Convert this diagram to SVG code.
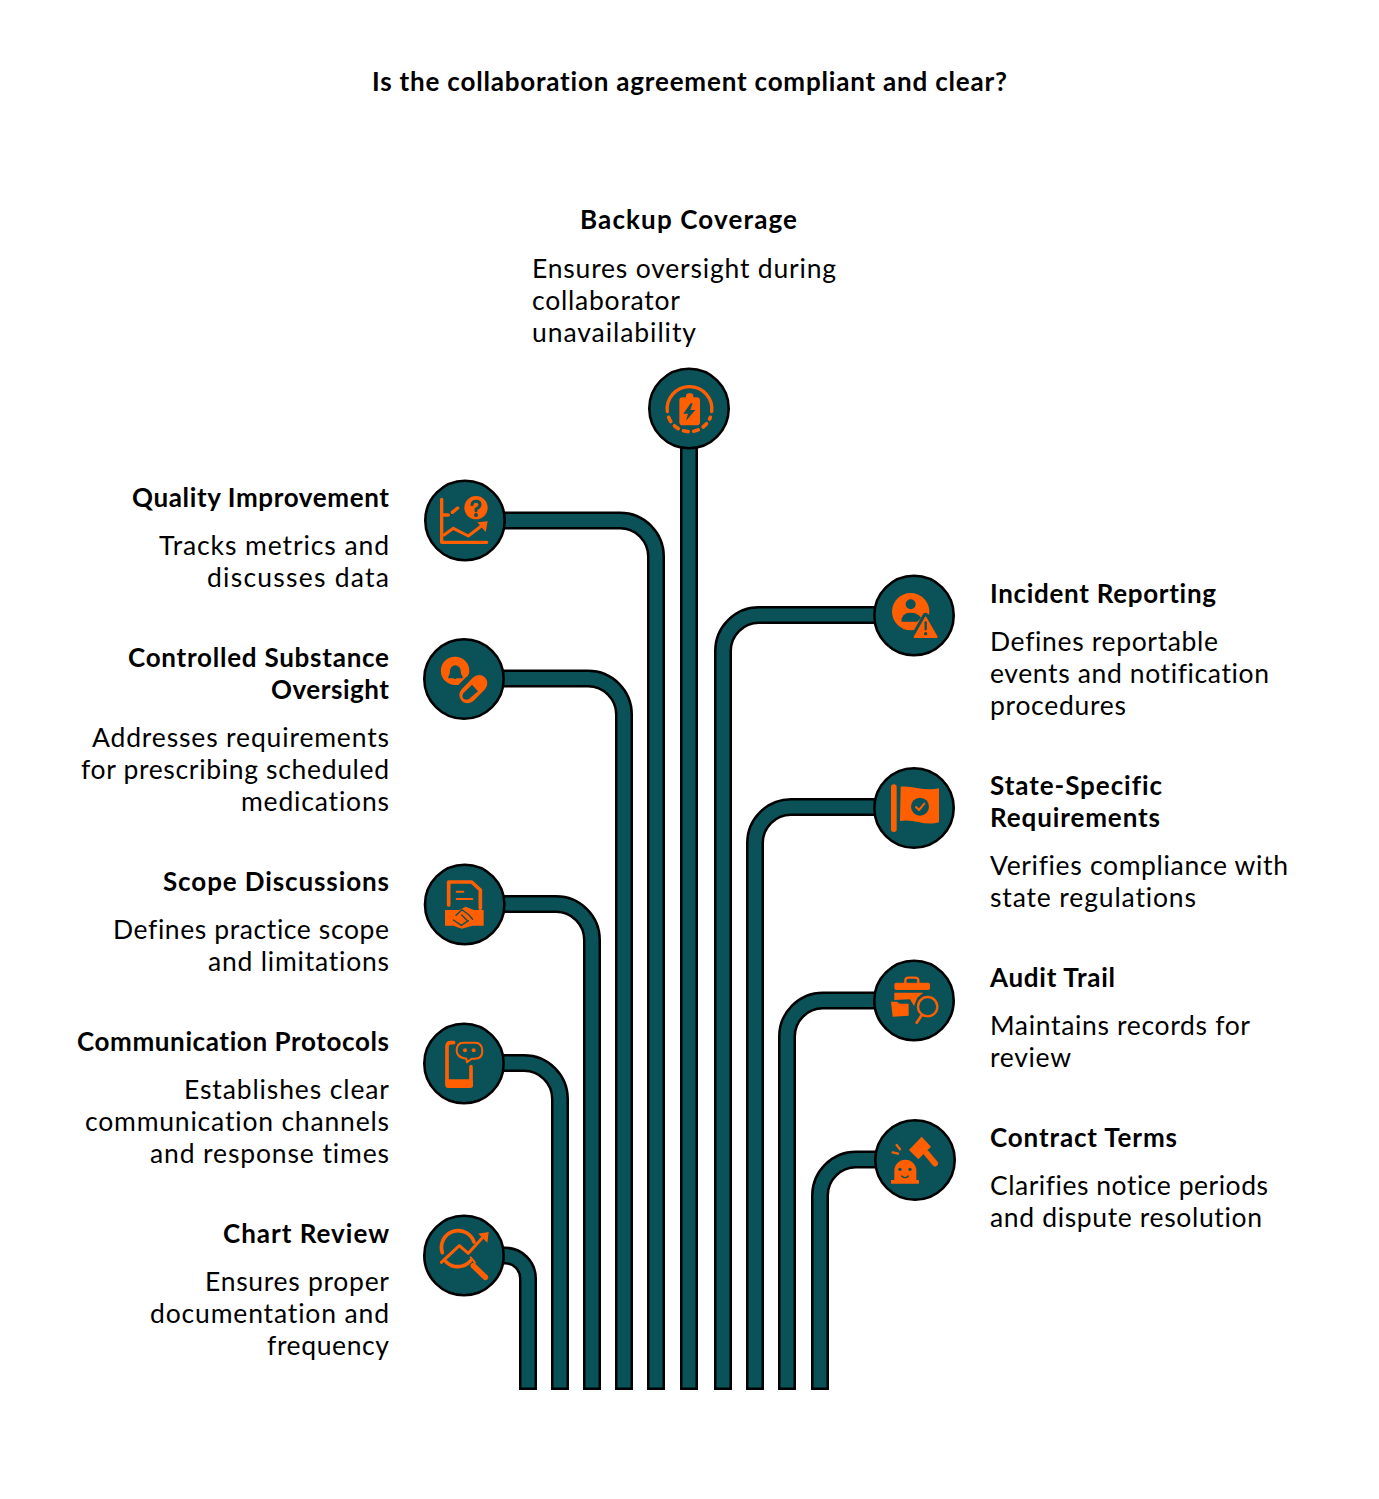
<svg xmlns="http://www.w3.org/2000/svg" width="1379" height="1499" viewBox="0 0 1379 1499">
<style>
text{font-family:"Lato","Noto Sans",sans-serif;fill:#000;font-variant-ligatures:none}
.h{font-size:26px;font-weight:700}
.b{font-size:26.5px;font-weight:400}
.e{text-anchor:end}
.po{fill:none;stroke:#000;stroke-width:18}
.pi{fill:none;stroke:#0b5158;stroke-width:13}
.c{fill:#0b5158;stroke:#000;stroke-width:2.6}
.o{fill:#ff5f00}
.t{fill:#0b5158}
.s{fill:none;stroke:#ff5f00;stroke-linecap:round;stroke-linejoin:round}
.k{fill:none;stroke:#0b5158;stroke-linecap:round;stroke-linejoin:round}
</style>
<rect width="1379" height="1499" fill="#fff"/>
<text class="h" x="372" y="90.5" textLength="635">Is the collaboration agreement compliant and clear?</text>
<g id="connectors">
<path class="po" d="M500 520.5H620A36 36 0 0 1 656 556.5V1390"/><path class="pi" d="M500 520.5H620A36 36 0 0 1 656 556.5V1387.5"/>
<path class="po" d="M500 678.5H588A36 36 0 0 1 624 714.5V1390"/><path class="pi" d="M500 678.5H588A36 36 0 0 1 624 714.5V1387.5"/>
<path class="po" d="M500 904H556A36 36 0 0 1 592 940V1390"/><path class="pi" d="M500 904H556A36 36 0 0 1 592 940V1387.5"/>
<path class="po" d="M500 1063H524A36 36 0 0 1 560 1099V1390"/><path class="pi" d="M500 1063H524A36 36 0 0 1 560 1099V1387.5"/>
<path class="po" d="M500 1255.5H505A23 23 0 0 1 528 1278.5V1390"/><path class="pi" d="M500 1255.5H505A23 23 0 0 1 528 1278.5V1387.5"/>
<path class="po" d="M689 440V1390"/><path class="pi" d="M689 440V1387.5"/>
<path class="po" d="M880 615H759A36 36 0 0 0 723 651V1390"/><path class="pi" d="M880 615H759A36 36 0 0 0 723 651V1387.5"/>
<path class="po" d="M880 807H791A36 36 0 0 0 755 843V1390"/><path class="pi" d="M880 807H791A36 36 0 0 0 755 843V1387.5"/>
<path class="po" d="M880 1000.5H823A36 36 0 0 0 787 1036.5V1390"/><path class="pi" d="M880 1000.5H823A36 36 0 0 0 787 1036.5V1387.5"/>
<path class="po" d="M880 1159.5H856A36 36 0 0 0 820 1195.5V1390"/><path class="pi" d="M880 1159.5H856A36 36 0 0 0 820 1195.5V1387.5"/>
</g>

<g id="backup-coverage">
<circle class="c" cx="689" cy="408.5" r="39.7"/>
<g transform="translate(400 360) scale(.33333)">
<path class="s" stroke-width="10" d="M802 155A67 67 0 1 1 935 155"/>
<path class="s" stroke-width="11" stroke-dasharray="14 17" d="M806 172A67 67 0 0 0 931 172"/>
<rect class="o" x="838" y="112" width="62" height="84" rx="10"/><rect class="o" x="858" y="100" width="22" height="20" rx="8"/>
<path class="t" d="M872 130L850 161H864L858 182L886 150H871L878 130Z"/>
</g>
<text class="h" x="580" y="229" textLength="217">Backup Coverage</text>
<text class="b" x="532" y="278" textLength="304">Ensures oversight during</text>
<text class="b" x="532" y="310" textLength="148">collaborator</text>
<text class="b" x="532" y="342" textLength="164">unavailability</text>
</g>

<g id="quality-improvement">
<circle class="c" cx="465" cy="520.5" r="39.7"/>
<g transform="translate(400 360) scale(.33333)">
<path class="s" stroke-width="10" fill="none" d="M125 418V547H260M125 465H145M157 457L173 444"/>
<circle class="o" cx="228" cy="443" r="35"/>
<path class="k" stroke-width="9" d="M216 434Q217 424 228 424Q240 424 240 434Q240 441 228 447V452"/><circle class="t" cx="228" cy="465" r="6"/>
<path class="s" stroke-width="9" d="M132 525L160 505L205 528L248 495"/><path class="o" d="M232 487L263 484L257 516Z"/>
</g>
<text class="h e" x="389" y="507" textLength="257">Quality Improvement</text>
<text class="b e" x="389" y="555" textLength="230">Tracks metrics and</text>
<text class="b e" x="389" y="587" textLength="182">discusses data</text>
</g>

<g id="controlled-substance-oversight">
<circle class="c" cx="464" cy="679" r="39.7"/>
<g transform="translate(400 360) scale(.33333)">
<path class="o" d="M165 890A42 42 0 0 1 208 932Q208 945 198 952L175 975Q170 975 165 975A42 42 0 0 1 165 890Z"/>
<path class="t" d="M145 950Q150 945 150 932A16 16 0 0 1 182 932Q182 945 188 950V955H170Q165 960 160 955H145Z"/>
<line x1="203" y1="1005" x2="237" y2="970" stroke="#ff5f00" stroke-width="50" stroke-linecap="round"/>
<path class="t" d="M190 1000L216 974L234 994L206 1018Q195 1022 189 1015Q185 1007 190 1000Z"/>
</g>
<text class="h e" x="389" y="667" textLength="261">Controlled Substance</text>
<text class="h e" x="389" y="699" textLength="118">Oversight</text>
<text class="b e" x="389" y="747" textLength="297">Addresses requirements</text>
<text class="b e" x="389" y="779" textLength="308">for prescribing scheduled</text>
<text class="b e" x="389" y="811" textLength="148">medications</text>
</g>

<g id="scope-discussions">
<circle class="c" cx="464.7" cy="904.5" r="39.7"/>
<g transform="translate(400 850) scale(.33333)">
<path class="s" stroke-width="11" d="M146 165V96H215L241 120V175"/>
<path class="s" stroke-width="6" d="M170 125H190M170 147H217"/>
<path class="o" d="M135 180H178L197 170L222 180H251V227H218L185 236L160 227H135Z"/>
<path class="k" stroke-width="4" d="M168 196L186 179L207 195L218 208M185 195L200 210M160 210L184 226L205 212"/>
</g>
<text class="h e" x="389" y="891" textLength="226">Scope Discussions</text>
<text class="b e" x="389" y="939" textLength="276">Defines practice scope</text>
<text class="b e" x="389" y="971" textLength="181">and limitations</text>
</g>

<g id="communication-protocols">
<circle class="c" cx="464" cy="1063.5" r="39.7"/>
<g transform="translate(400 850) scale(.33333)">
<path class="s" stroke-width="11" d="M161 578H152Q141 578 141 590V698Q141 708 152 708H204Q213 708 213 698V650"/>
<rect class="o" x="136" y="688" width="83" height="26" rx="8"/>
<path class="s" stroke-width="6" d="M190 578H225Q247 578 247 604Q247 626 225 626H215L201 637L199 626Q170 622 170 602Q170 578 190 578Z"/>
<circle class="o" cx="195" cy="601" r="6"/><circle class="o" cx="221" cy="601" r="6"/>
</g>
<text class="h e" x="389" y="1051" textLength="312">Communication Protocols</text>
<text class="b e" x="389" y="1099" textLength="205">Establishes clear</text>
<text class="b e" x="389" y="1131" textLength="304">communication channels</text>
<text class="b e" x="389" y="1163" textLength="239">and response times</text>
</g>

<g id="chart-review">
<circle class="c" cx="464" cy="1255.5" r="39.7"/>
<g transform="translate(400 850) scale(.33333)">
<path class="s" stroke-width="11" d="M127 1208A50 50 0 0 1 222 1176M138 1235A50 50 0 0 0 212 1232"/>
<path class="s" stroke-width="9" d="M124 1237L178 1187L205 1210L252 1158"/>
<path class="o" d="M235 1151L266 1146L262 1178Z"/>
<path class="s" stroke-width="6" d="M212 1222L225 1238"/>
<line x1="220" y1="1247" x2="256" y2="1282" stroke="#ff5f00" stroke-width="17" stroke-linecap="round"/>
</g>
<text class="h e" x="389" y="1243" textLength="166">Chart Review</text>
<text class="b e" x="389" y="1291" textLength="184">Ensures proper</text>
<text class="b e" x="389" y="1323" textLength="239">documentation and</text>
<text class="b e" x="389" y="1355" textLength="122">frequency</text>
</g>

<g id="incident-reporting">
<circle class="c" cx="914" cy="615.5" r="39.7"/>
<g transform="translate(860 565) scale(.33333)">
<circle class="o" cx="152" cy="140" r="56"/>
<circle class="t" cx="152" cy="118" r="15"/>
<path class="t" d="M124 170Q124 143 152 143Q172 143 183 158L172 170Z"/>
<path class="t" d="M197 155L232 218H162Z" stroke="#0b5158" stroke-width="22" stroke-linejoin="round"/>
<path class="o" d="M197 158L230 216H164Z" stroke="#ff5f00" stroke-width="6" stroke-linejoin="round"/>
<path class="k" stroke-width="7" d="M197 172V193"/><circle class="t" cx="197" cy="206" r="5"/>
</g>
<text class="h" x="990" y="603" textLength="226">Incident Reporting</text>
<text class="b" x="990" y="651" textLength="228">Defines reportable</text>
<text class="b" x="990" y="683" textLength="279">events and notification</text>
<text class="b" x="990" y="715" textLength="136">procedures</text>
</g>

<g id="state-specific-requirements">
<circle class="c" cx="914" cy="808" r="39.7"/>
<g transform="translate(860 565) scale(.33333)">
<rect class="o" x="93" y="658" width="17" height="143" rx="8"/>
<path class="o" d="M122 665C155 660 195 680 237 670V772C195 785 160 760 120 768Z"/>
<circle class="t" cx="180" cy="725" r="27"/>
<path class="s" stroke-width="6" d="M168 726L177 735L193 716"/>
</g>
<text class="h" x="990" y="795" textLength="172">State-Specific</text>
<text class="h" x="990" y="827" textLength="170">Requirements</text>
<text class="b" x="990" y="875" textLength="298">Verifies compliance with</text>
<text class="b" x="990" y="907" textLength="206">state regulations</text>
</g>

<g id="audit-trail">
<circle class="c" cx="914" cy="1000.5" r="39.7"/>
<g transform="translate(860 950) scale(.33333)">
<path class="s" stroke-width="7" d="M136 98V91Q136 83 146 83H165Q175 83 175 91V98"/>
<rect class="o" x="103" y="98" width="107" height="22" rx="6"/>
<path class="o" d="M103 128H190L172 143L162 168L150 148L103 150Z"/>
<path class="o" d="M93 155H110L120 161H146V197L98 200Z"/>
<circle cx="203" cy="170" r="29" fill="none" stroke="#ff5f00" stroke-width="7"/>
<path class="s" stroke-width="8" d="M185 196L170 218"/>
</g>
<text class="h" x="990" y="987" textLength="125">Audit Trail</text>
<text class="b" x="990" y="1035" textLength="260">Maintains records for</text>
<text class="b" x="990" y="1067" textLength="81">review</text>
</g>

<g id="contract-terms">
<circle class="c" cx="915" cy="1160" r="39.7"/>
<g transform="translate(860 950) scale(.33333)">
<path class="o" d="M103 690V662A33 33 0 0 1 169 662V690H177V701H93V690Z"/>
<circle class="t" cx="120" cy="658" r="5"/><circle class="t" cx="150" cy="658" r="5"/>
<path class="k" stroke-width="4" d="M125 678Q135 688 145 678"/>
<path class="s" stroke-width="7" d="M110 585L120 598M98 607L114 611"/>
<path class="o" d="M147 600L185 560L213 590L175 628Z"/>
<line x1="200" y1="610" x2="225" y2="640" stroke="#ff5f00" stroke-width="18" stroke-linecap="round"/>
</g>
<text class="h" x="990" y="1147" textLength="187">Contract Terms</text>
<text class="b" x="990" y="1195" textLength="278">Clarifies notice periods</text>
<text class="b" x="990" y="1227" textLength="272">and dispute resolution</text>
</g>
</svg>
